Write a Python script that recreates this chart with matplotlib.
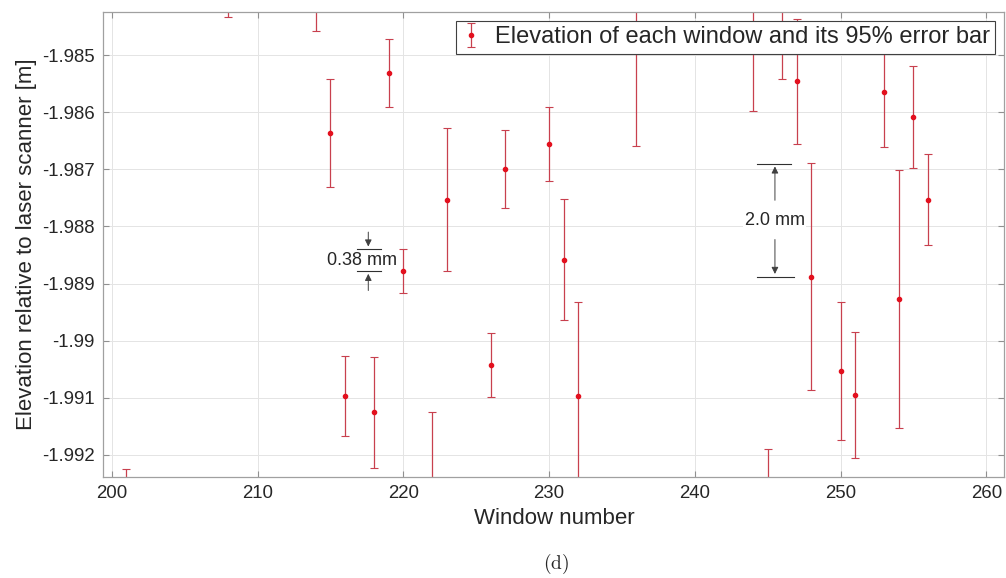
import numpy as np
import matplotlib
matplotlib.use("Agg")
import matplotlib.pyplot as plt
from matplotlib.ticker import FormatStrFormatter

plt.rcParams['font.family'] = ['Liberation Sans', 'DejaVu Sans']
plt.rcParams['axes.unicode_minus'] = False
plt.rcParams['mathtext.fontset'] = 'cm'

# window number, elevation [m] and 95% half-width [m]
windows = [201, 208, 214, 215, 216, 218, 219, 220, 222, 223, 226, 227, 230, 231,
           232, 236, 244, 245, 246, 247, 248, 250, 251, 253, 254, 255, 256]
elev = [-1.99300, -1.98395, -1.98395, -1.98636, -1.99097, -1.99125, -1.98531,
        -1.98878, -1.99250, -1.98753, -1.99042, -1.98700, -1.98656, -1.98858,
        -1.99097, -1.98410, -1.98400, -1.99300, -1.98400, -1.98546, -1.98888,
        -1.99053, -1.99095, -1.98565, -1.98927, -1.98608, -1.98753]
err95 = [0.00075, 0.00039, 0.00063, 0.00095, 0.00070, 0.00097, 0.00060,
         0.00038, 0.00126, 0.00125, 0.00056, 0.00068, 0.00065, 0.00106,
         0.00164, 0.00249, 0.00198, 0.00111, 0.00142, 0.00109, 0.00199,
         0.00120, 0.00110, 0.00096, 0.00225, 0.00089, 0.00080]

x_ticks = [200, 210, 220, 230, 240, 250, 260]
y_ticks = [-1.992, -1.991, -1.990, -1.989, -1.988, -1.987, -1.986, -1.985]

# dimension marks: (x, lower level, upper level, label)
dim_small = (217.6, -1.98878, -1.98840, "0.38 mm")
dim_big = (245.5, -1.98888, -1.98690, "2.0 mm")

txt = '#262626'
fig = plt.figure(figsize=(10.06, 5.78), dpi=100)
ax = fig.add_axes([0.1027, 0.1753, 0.8958, 0.8045])

ax.errorbar(windows, elev, yerr=err95, fmt='o', color='#e3101e', markersize=3,
            ecolor='#c8404e', elinewidth=0.9, capsize=3, capthick=0.8,
            label='Elevation of each window and its 95% error bar')

ax.set_xlim(199.42, 261.25)
ax.set_ylim(-1.99238, -1.98424)
ax.set_xticks(x_ticks)
ax.set_yticks(y_ticks)
ax.yaxis.set_major_formatter(FormatStrFormatter('%g'))
ax.grid(True, color='#e4e4e4', lw=0.7)
ax.set_axisbelow(True)
ax.tick_params(direction='in', length=4, top=True, right=True, color='#909090',
               labelsize=13.4, labelcolor=txt, pad=6)
for s in ax.spines.values():
    s.set_color('#a0a0a0')
    s.set_linewidth(0.9)

ax.set_xlabel('Window number', fontsize=16, color=txt, labelpad=4)
ax.set_ylabel('Elevation relative to laser scanner [m]', fontsize=16, color=txt, labelpad=4)

arrow = dict(arrowstyle='-|>', color='#404040', lw=0.7, mutation_scale=10)

# 0.38 mm mark
x0, lo, hi, lab = dim_small
ax.plot([216.8, 218.45], [hi, hi], color='#303030', lw=0.8)
ax.plot([216.8, 218.45], [lo, lo], color='#303030', lw=0.8)
ax.annotate('', xy=(x0, hi), xytext=(x0, -1.98805), arrowprops=arrow)
ax.annotate('', xy=(x0, lo), xytext=(x0, -1.98917), arrowprops=arrow)
ax.text(217.2, -1.98860, lab, ha='center', va='center', fontsize=13, color=txt)

# 2.0 mm mark
x0, lo, hi, lab = dim_big
ax.plot([244.3, 246.6], [hi, hi], color='#303030', lw=0.8)
ax.plot([244.3, 246.8], [lo, lo], color='#303030', lw=0.8)
ax.annotate('', xy=(x0, hi), xytext=(x0, -1.98759), arrowprops=arrow)
ax.annotate('', xy=(x0, lo), xytext=(x0, -1.98818), arrowprops=arrow)
ax.text(x0, -1.98789, lab, ha='center', va='center', fontsize=13, color=txt,
        bbox=dict(fc='white', ec='none', pad=1))

leg = ax.legend(loc='upper right', bbox_to_anchor=(0.990, 0.981), borderaxespad=0,
                fancybox=False, framealpha=1, edgecolor='#404040', fontsize=17,
                handlelength=0.8, handletextpad=0.6, borderpad=0.25)
leg.get_frame().set_linewidth(0.8)
for t in leg.get_texts():
    t.set_color(txt)

fig.text(0.553, 0.024, r'$\mathrm{(d)}$', ha='center', va='center', fontsize=14, color=txt)

fig.savefig('out.png', dpi=100)
